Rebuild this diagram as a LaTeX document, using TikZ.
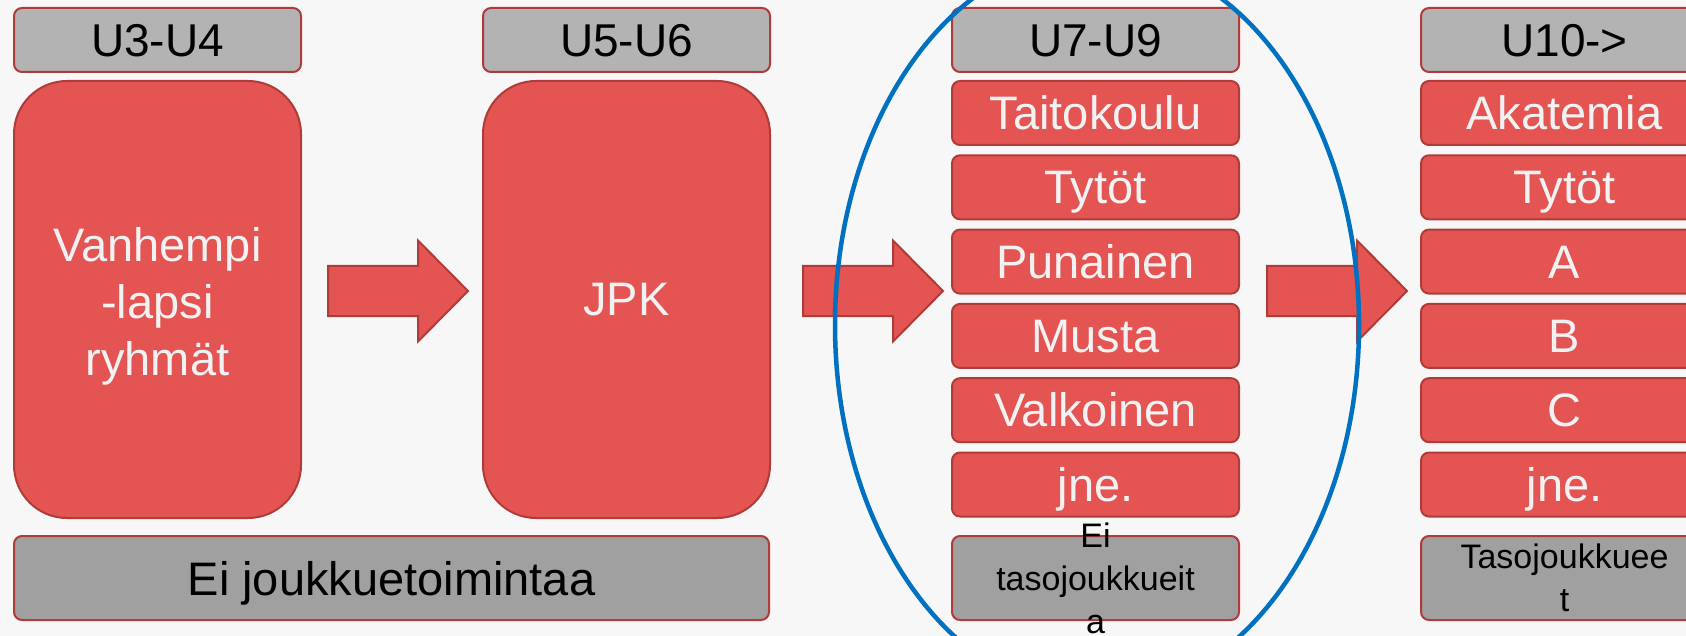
\documentclass[tikz,border=0pt]{standalone}
\usepackage{fontspec}
\setmainfont{Liberation Sans}

\definecolor{boxred}{HTML}{E35452}
\definecolor{boxedge}{HTML}{B03C3A}
\definecolor{headgray}{HTML}{B3B3B3}
\definecolor{footgray}{HTML}{A0A0A0}
\definecolor{ringblue}{HTML}{0070C0}
\definecolor{paper}{HTML}{F7F7F7}
\definecolor{lighttext}{HTML}{F2F2F2}

\begin{document}
\begin{tikzpicture}[x=1pt,y=-1pt,
  box/.style={draw=boxedge, line width=2pt, rounded corners=8pt,
    minimum width=287pt, inner sep=0pt, align=center},
  oneline/.style={text height=33pt, text depth=0pt},
  headbox/.style={box, oneline, fill=headgray, minimum height=64pt,
    font=\fontsize{46}{55}\selectfont},
  redbox/.style={box, oneline, fill=boxred, text=lighttext, minimum height=64pt,
    font=\fontsize{47}{55}\selectfont},
  bigbox/.style={box, fill=boxred, rounded corners=53pt, minimum height=437pt},
  bigtext/.style={align=center, inner sep=0pt, text=lighttext,
    font=\fontsize{47}{56.7}\selectfont},
  footbox/.style={box, fill=footgray, minimum height=84pt},
  foottext/.style={align=center, inner sep=0pt, font=\fontsize{34}{43}\selectfont},
  blockarrow/.style={draw=boxedge, line width=2pt, fill=boxred},
  ring/.style={draw=ringblue, line width=4.5pt}]

  \useasboundingbox (0,0) rectangle (1686,636);
  \clip (0,0) rectangle (1686,636);
  \fill[paper] (0,0) rectangle (1686,636);

  % column centres
  \def\colA{157.5}
  \def\colB{626.5}
  \def\colC{1095.5}
  \def\colD{1564.5}

  % block arrows between the columns
  \foreach \ax in {328,803,1267} {
    \draw[blockarrow] (\ax,266) -- (\ax+90,266) -- (\ax+90,240.5) -- (\ax+140,291)
      -- (\ax+90,341.5) -- (\ax+90,316) -- (\ax,316) -- cycle;
  }

  % age headers
  \node[headbox] (hA) at (\colA,40) {U3-U4};
  \node[headbox] (hB) at (\colB,40) {U5-U6};
  \node[headbox] (hC) at (\colC,40) {U7-U9};
  \node[headbox] (hD) at (\colD,40) {U10->};

  \node[bigbox] (vlr) at (\colA,299.5) {};
  \node[bigtext] (vlrtxt) at ([yshift=-7pt]vlr.center) {Vanhempi\\-lapsi\\ryhmät};
  \node[bigbox, oneline, text=lighttext, font=\fontsize{47}{56}\selectfont]
    (jpk) at (\colB,299.5) {JPK};

  \foreach \txt [count=\i from 0] in {Taitokoulu,Tytöt,Punainen,Musta,Valkoinen,jne.} {
    \node[redbox] (k\i) at (\colC,113+74.3*\i) {\txt};
  }
  \foreach \txt [count=\i from 0] in {Akatemia,Tytöt,A,B,C,jne.} {
    \node[redbox] (a\i) at (\colD,113+74.3*\i) {\txt};
  }

  % bottom row
  \node[footbox, text height=34pt, text depth=0pt, minimum width=755pt,
    font=\fontsize{47}{56}\selectfont] (eij) at (391.5,578) {Ei joukkuetoimintaa};
  \node[footbox] (eit) at (\colC,578) {};
  \node[foottext] (eittxt) at (eit.center) {Ei\\tasojoukkueit\\a};
  \node[footbox] (taso) at (\colD,578) {};
  \node[foottext] (tasotxt) at (taso.center) {Tasojoukkuee\\t};

  \draw[ring] (1097,325) ellipse [x radius=262, y radius=371];

\end{tikzpicture}
\end{document}
